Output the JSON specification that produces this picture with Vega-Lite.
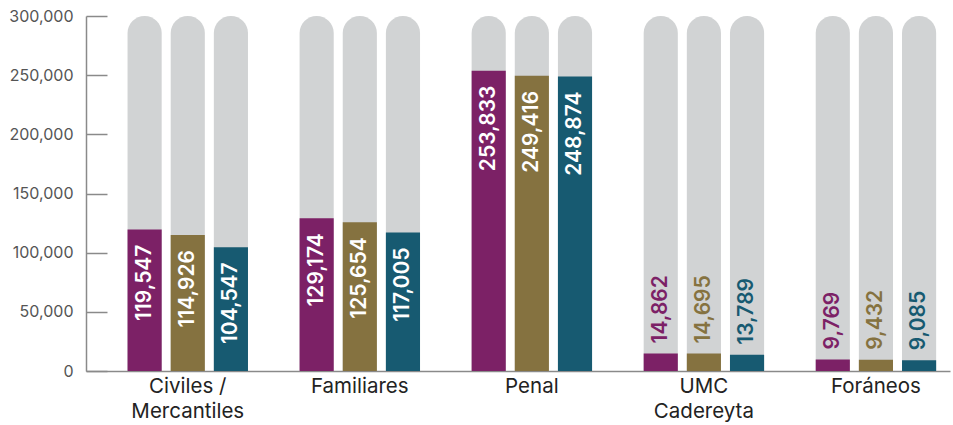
{
  "$schema": "https://vega.github.io/schema/vega-lite/v6.json",
  "width": 864,
  "height": 355,
  "autosize": {"type": "none"},
  "padding": {"left": 86, "top": 16, "right": 3, "bottom": 54},
  "config": {
    "view": {"stroke": null},
    "font": "Inter",
    "axisY": {
      "title": null,
      "labelFontSize": 16,
      "labelFont": "Inter",
      "labelColor": "#555555",
      "tickSize": -21,
      "tickColor": "#8a8a8a",
      "tickWidth": 1.5,
      "domainColor": "#8a8a8a",
      "domainWidth": 1.5,
      "grid": false,
      "labelPadding": 34
    }
  },
  "data": {
    "values": [
      {"categoria": "Civiles / Mercantiles", "serie": "1", "valor": 119547},
      {"categoria": "Civiles / Mercantiles", "serie": "2", "valor": 114926},
      {"categoria": "Civiles / Mercantiles", "serie": "3", "valor": 104547},
      {"categoria": "Familiares", "serie": "1", "valor": 129174},
      {"categoria": "Familiares", "serie": "2", "valor": 125654},
      {"categoria": "Familiares", "serie": "3", "valor": 117005},
      {"categoria": "Penal", "serie": "1", "valor": 253833},
      {"categoria": "Penal", "serie": "2", "valor": 249416},
      {"categoria": "Penal", "serie": "3", "valor": 248874},
      {"categoria": "UMC Cadereyta", "serie": "1", "valor": 14862},
      {"categoria": "UMC Cadereyta", "serie": "2", "valor": 14695},
      {"categoria": "UMC Cadereyta", "serie": "3", "valor": 13789},
      {"categoria": "Foráneos", "serie": "1", "valor": 9769},
      {"categoria": "Foráneos", "serie": "2", "valor": 9432},
      {"categoria": "Foráneos", "serie": "3", "valor": 9085}
    ]
  },
  "encoding": {
    "x": {
      "field": "categoria",
      "type": "nominal",
      "sort": null,
      "scale": {"paddingInner": 0.3, "paddingOuter": 0.161, "align": 0.75},
      "axis": {
        "title": null,
        "labelExpr": "datum.value == 'Civiles / Mercantiles' ? ['Civiles /', 'Mercantiles'] : datum.value == 'UMC Cadereyta' ? ['UMC', 'Cadereyta'] : datum.value",
        "labelFontSize": 20.5,
        "labelFont": "Inter",
        "labelColor": "#222222",
        "labelLineHeight": 25,
        "labelPadding": 5,
        "labelAngle": 0,
        "labelBaseline": "top",
        "ticks": false,
        "domainColor": "#8a8a8a",
        "domainWidth": 1.5
      }
    },
    "xOffset": {
      "field": "serie",
      "type": "nominal",
      "sort": null,
      "scale": {"paddingInner": 0.209, "paddingOuter": 0}
    }
  },
  "layer": [
    {
      "mark": {"type": "bar", "color": "#d1d3d4", "cornerRadiusTopLeft": 17, "cornerRadiusTopRight": 17},
      "encoding": {
        "y": {
          "datum": 300000,
          "type": "quantitative",
          "scale": {"domain": [0, 300000], "nice": false},
          "axis": {"title": null, "labelExpr": "format(datum.value, ',')", "values": [0, 50000, 100000, 150000, 200000, 250000, 300000]}
        }
      }
    },
    {
      "mark": {"type": "bar"},
      "encoding": {
        "y": {"field": "valor", "type": "quantitative", "axis": {"title": null, "labelExpr": "format(datum.value, ',')", "values": [0, 50000, 100000, 150000, 200000, 250000, 300000]}},
        "color": {
          "field": "serie",
          "type": "nominal",
          "scale": {"domain": ["1", "2", "3"], "range": ["#7c2166", "#857240", "#175a71"]},
          "legend": null
        }
      }
    },
    {
      "transform": [{"filter": "datum.valor > 50000"}],
      "mark": {"type": "text", "angle": 270, "align": "right", "baseline": "middle", "dx": -15, "color": "white", "fontSize": 21, "fontWeight": 600, "font": "Inter"},
      "encoding": {
        "y": {"field": "valor", "type": "quantitative", "axis": {"title": null, "labelExpr": "format(datum.value, ',')", "values": [0, 50000, 100000, 150000, 200000, 250000, 300000]}},
        "text": {"field": "valor", "type": "quantitative", "format": ","}
      }
    },
    {
      "transform": [{"filter": "datum.valor <= 50000"}],
      "mark": {"type": "text", "angle": 270, "align": "left", "baseline": "middle", "dx": 10, "fontSize": 21, "fontWeight": 600, "font": "Inter"},
      "encoding": {
        "y": {"field": "valor", "type": "quantitative", "axis": {"title": null, "labelExpr": "format(datum.value, ',')", "values": [0, 50000, 100000, 150000, 200000, 250000, 300000]}},
        "text": {"field": "valor", "type": "quantitative", "format": ","},
        "color": {"field": "serie", "type": "nominal", "legend": null}
      }
    }
  ]
}
